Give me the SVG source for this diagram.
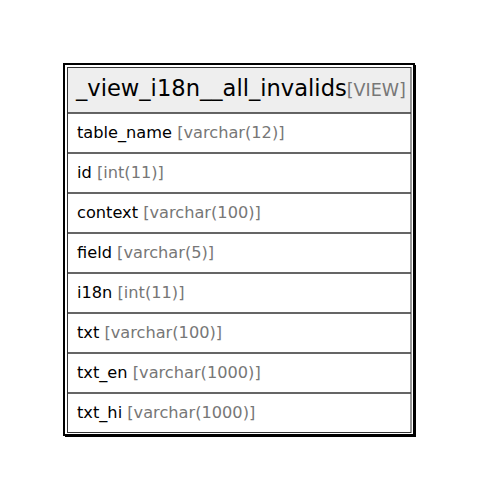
<svg xmlns="http://www.w3.org/2000/svg" width="479" height="500" viewBox="0 0 479 500">
<style>
.n{font-family:"DejaVu Sans",sans-serif;font-size:16.2px;fill:#000}
.t{fill:#777}
.sep{stroke:#333;stroke-width:1.5}
</style>
<rect width="479" height="500" fill="#fff"/>
<g id="view">
<rect x="64" y="64" width="350" height="371" fill="#fff" stroke="#000" stroke-width="2"/>
<path d="M415 65V436H65" fill="none" stroke="#000" stroke-width="2"/>
<rect x="67.5" y="67.5" width="343.5" height="45.5" fill="#eeeeee"/>
<rect x="67.5" y="67.5" width="343.5" height="365" fill="none" stroke="#333" stroke-width="1"/>
<text x="76" y="96" class="n" style="font-size:22.6px">_view_i18n__all_invalids<tspan class="t" style="font-size:17.5px">[VIEW]</tspan></text>
<path class="sep" d="M67 113H411M67 153H411M67 193H411M67 233H411M67 273H411M67 313H411M67 353H411M67 393H411"/>
<text x="77" y="138" class="n">table_name <tspan class="t">[varchar(12)]</tspan></text>
<text x="77" y="178" class="n">id <tspan class="t">[int(11)]</tspan></text>
<text x="77" y="218" class="n">context <tspan class="t">[varchar(100)]</tspan></text>
<text x="77" y="258" class="n">field <tspan class="t">[varchar(5)]</tspan></text>
<text x="77" y="298" class="n">i18n <tspan class="t">[int(11)]</tspan></text>
<text x="77" y="338" class="n">txt <tspan class="t">[varchar(100)]</tspan></text>
<text x="77" y="378" class="n">txt_en <tspan class="t">[varchar(1000)]</tspan></text>
<text x="77" y="418" class="n">txt_hi <tspan class="t">[varchar(1000)]</tspan></text>
</g>
</svg>
